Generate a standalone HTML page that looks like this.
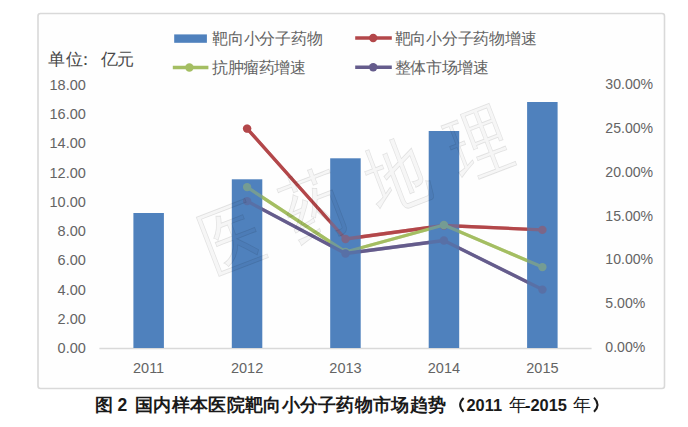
<!DOCTYPE html>
<html><head><meta charset="utf-8"><style>
html,body{margin:0;padding:0;background:#fff;width:688px;height:427px;overflow:hidden}
svg{display:block;font-family:"Liberation Sans",sans-serif}
</style></head><body>
<svg width="688" height="427" viewBox="0 0 688 427">
<rect x="38" y="13.5" width="626.5" height="375" rx="2.5" fill="#fefefe" stroke="#d9d9d9" stroke-width="1.6"/>
<line x1="99.4" y1="348.5" x2="591.6" y2="348.5" stroke="#d9d9d9" stroke-width="1.5"/>
<g opacity="1"><polyline points="247.1,128.6 345.5,239 443.9,225.5 542.4,229.9" fill="none" stroke="#b3474a" stroke-width="3.3" stroke-linejoin="round"/><circle cx="247.1" cy="128.6" r="4.2" fill="#b3474a"/><circle cx="345.5" cy="239" r="4.2" fill="#b3474a"/><circle cx="443.9" cy="225.5" r="4.2" fill="#b3474a"/><circle cx="542.4" cy="229.9" r="4.2" fill="#b3474a"/><polyline points="247.1,187.1 345.5,252 443.9,225 542.4,267.1" fill="none" stroke="#a4be62" stroke-width="3.3" stroke-linejoin="round"/><circle cx="247.1" cy="187.1" r="4.2" fill="#a4be62"/><circle cx="345.5" cy="252" r="4.2" fill="#a4be62"/><circle cx="443.9" cy="225" r="4.2" fill="#a4be62"/><circle cx="542.4" cy="267.1" r="4.2" fill="#a4be62"/><polyline points="247.1,201.1 345.5,253.5 443.9,240.5 542.4,289.6" fill="none" stroke="#655c8c" stroke-width="3.3" stroke-linejoin="round"/><circle cx="247.1" cy="201.1" r="4.2" fill="#655c8c"/><circle cx="345.5" cy="253.5" r="4.2" fill="#655c8c"/><circle cx="443.9" cy="240.5" r="4.2" fill="#655c8c"/><circle cx="542.4" cy="289.6" r="4.2" fill="#655c8c"/></g>
<rect x="133.4" y="213" width="30.5" height="135" fill="#4f81bd"/>
<rect x="231.8" y="179.3" width="30.5" height="168.7" fill="#4f81bd"/>
<rect x="330.2" y="158.3" width="30.5" height="189.7" fill="#4f81bd"/>
<rect x="428.7" y="131" width="30.5" height="217" fill="#4f81bd"/>
<rect x="527.1" y="102" width="30.5" height="246" fill="#4f81bd"/>
<g opacity="0.45"><polyline points="247.1,128.6 345.5,239 443.9,225.5 542.4,229.9" fill="none" stroke="#b3474a" stroke-width="3.3" stroke-linejoin="round"/><circle cx="247.1" cy="128.6" r="4.2" fill="#b3474a"/><circle cx="345.5" cy="239" r="4.2" fill="#b3474a"/><circle cx="443.9" cy="225.5" r="4.2" fill="#b3474a"/><circle cx="542.4" cy="229.9" r="4.2" fill="#b3474a"/><polyline points="247.1,187.1 345.5,252 443.9,225 542.4,267.1" fill="none" stroke="#a4be62" stroke-width="3.3" stroke-linejoin="round"/><circle cx="247.1" cy="187.1" r="4.2" fill="#a4be62"/><circle cx="345.5" cy="252" r="4.2" fill="#a4be62"/><circle cx="443.9" cy="225" r="4.2" fill="#a4be62"/><circle cx="542.4" cy="267.1" r="4.2" fill="#a4be62"/><polyline points="247.1,201.1 345.5,253.5 443.9,240.5 542.4,289.6" fill="none" stroke="#655c8c" stroke-width="3.3" stroke-linejoin="round"/><circle cx="247.1" cy="201.1" r="4.2" fill="#655c8c"/><circle cx="345.5" cy="253.5" r="4.2" fill="#655c8c"/><circle cx="443.9" cy="240.5" r="4.2" fill="#655c8c"/><circle cx="542.4" cy="289.6" r="4.2" fill="#655c8c"/></g>
<g transform="translate(214,274) rotate(-21) scale(0.78,1)"><text x="0" y="0" font-size="76" fill="rgba(0,0,0,0.03)" stroke="rgba(0,0,0,0.1)" stroke-width="0.9" textLength="415" lengthAdjust="spacing">医药地理</text></g>
<text x="85.8" y="353.2" text-anchor="end" font-size="14.5" fill="#646464">0.00</text>
<text x="85.8" y="323.9" text-anchor="end" font-size="14.5" fill="#646464">2.00</text>
<text x="85.8" y="294.7" text-anchor="end" font-size="14.5" fill="#646464">4.00</text>
<text x="85.8" y="265.4" text-anchor="end" font-size="14.5" fill="#646464">6.00</text>
<text x="85.8" y="236.1" text-anchor="end" font-size="14.5" fill="#646464">8.00</text>
<text x="85.8" y="206.8" text-anchor="end" font-size="14.5" fill="#646464">10.00</text>
<text x="85.8" y="177.6" text-anchor="end" font-size="14.5" fill="#646464">12.00</text>
<text x="85.8" y="148.3" text-anchor="end" font-size="14.5" fill="#646464">14.00</text>
<text x="85.8" y="119.0" text-anchor="end" font-size="14.5" fill="#646464">16.00</text>
<text x="85.8" y="89.8" text-anchor="end" font-size="14.5" fill="#646464">18.00</text>
<text x="605.3" y="352.2" font-size="14.1" fill="#646464">0.00%</text>
<text x="605.3" y="308.3" font-size="14.1" fill="#646464">5.00%</text>
<text x="605.3" y="264.4" font-size="14.1" fill="#646464">10.00%</text>
<text x="605.3" y="220.5" font-size="14.1" fill="#646464">15.00%</text>
<text x="605.3" y="176.6" font-size="14.1" fill="#646464">20.00%</text>
<text x="605.3" y="132.7" font-size="14.1" fill="#646464">25.00%</text>
<text x="605.3" y="88.8" font-size="14.1" fill="#646464">30.00%</text>
<text x="148.6" y="373.2" text-anchor="middle" font-size="14.5" fill="#646464">2011</text>
<text x="247.1" y="373.2" text-anchor="middle" font-size="14.5" fill="#646464">2012</text>
<text x="345.5" y="373.2" text-anchor="middle" font-size="14.5" fill="#646464">2013</text>
<text x="443.9" y="373.2" text-anchor="middle" font-size="14.5" fill="#646464">2014</text>
<text x="542.4" y="373.2" text-anchor="middle" font-size="14.5" fill="#646464">2015</text>
<rect x="174.2" y="34.4" width="32.7" height="8.4" fill="#4f81bd"/>
<text x="212" y="44" font-size="16" textLength="110.5" lengthAdjust="spacing" fill="#646464">靶向小分子药物</text>
<line x1="355.2" y1="38" x2="391.8" y2="38" stroke="#b3474a" stroke-width="3.6"/><circle cx="373.2" cy="38" r="4.2" fill="#b3474a"/>
<text x="394.5" y="44" font-size="16" textLength="142" lengthAdjust="spacing" fill="#646464">靶向小分子药物增速</text>
<line x1="172.8" y1="67.5" x2="208.4" y2="67.5" stroke="#a4be62" stroke-width="3.7"/><circle cx="189.4" cy="67.5" r="4.2" fill="#a4be62"/>
<text x="212" y="73" font-size="16" textLength="93.5" lengthAdjust="spacing" fill="#646464">抗肿瘤药增速</text>
<line x1="355.2" y1="67.2" x2="391.8" y2="67.2" stroke="#655c8c" stroke-width="3.6"/><circle cx="373.2" cy="67.2" r="4.2" fill="#655c8c"/>
<text x="394.5" y="73" font-size="16" textLength="94.5" lengthAdjust="spacing" fill="#646464">整体市场增速</text>
<g fill="#484848" font-size="17"><text x="48" y="64.5" textLength="34.5" lengthAdjust="spacing">单位</text><text x="77.3" y="64.5">：</text><text x="101.2" y="64.5" textLength="32.5" lengthAdjust="spacing">亿元</text></g>
<g font-weight="bold" fill="#1a1a1a"><text x="95" y="410.5" font-size="17.5">图</text><text x="117.5" y="410.5" font-size="17.5">2</text><text x="135" y="410.5" font-size="18" textLength="311" lengthAdjust="spacing">国内样本医院靶向小分子药物市场趋势</text><path d="M463.6,398 Q456.6,404.8 463.6,411.8" fill="none" stroke="#1a1a1a" stroke-width="2"/><text x="466.5" y="411.4" font-size="16.8" textLength="35.5" lengthAdjust="spacingAndGlyphs">2011</text><text x="508.5" y="410.5" font-size="18" font-weight="normal">年</text><text x="525" y="410.5" font-size="17" textLength="42" lengthAdjust="spacingAndGlyphs">-2015</text><text x="572.5" y="410.5" font-size="18" font-weight="normal">年</text><path d="M594,397.6 Q601,404.7 594,411.8" fill="none" stroke="#1a1a1a" stroke-width="2"/></g>
</svg>
</body></html>
